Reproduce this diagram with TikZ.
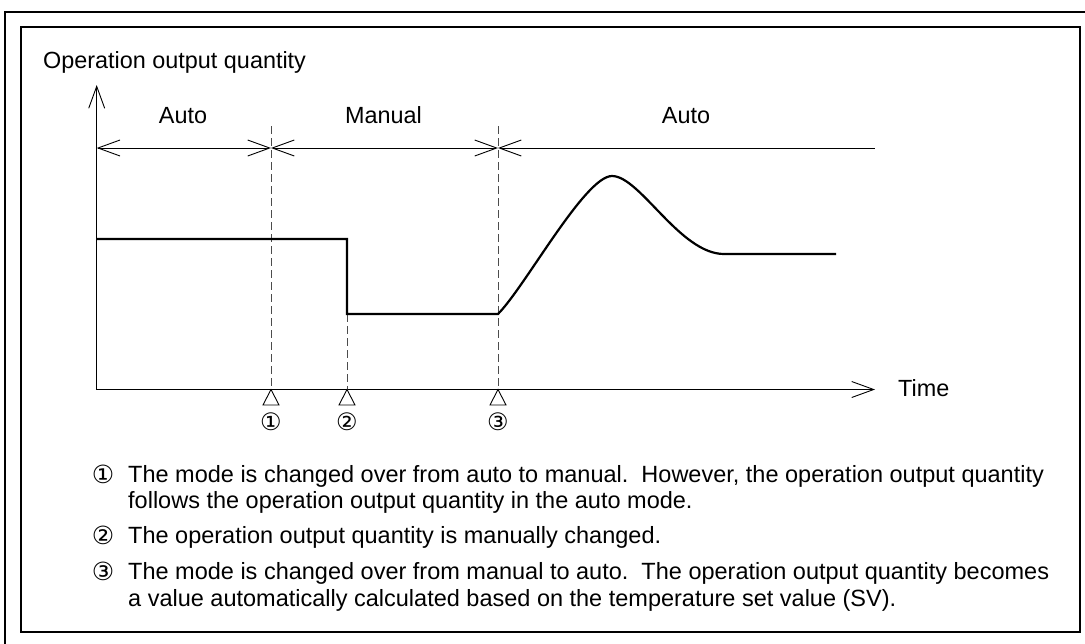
\documentclass[tikz,border=0pt]{standalone}
\usepackage{fontspec}
\setmainfont{Liberation Sans}
\newfontfamily\circfont{DejaVu Sans}
\usetikzlibrary{arrows.meta}

\tikzset{
  frame/.style={line width=2pt},
  axis/.style={line width=0.9pt},
  signal/.style={line width=2.2pt, line join=miter},
  guide/.style={line width=0.9pt, dash pattern=on 8pt off 4pt, black!70},
  marker/.style={line width=0.9pt, line join=miter},
  lbl/.style={inner sep=0pt, font=\fontsize{23.4}{28}\selectfont},
  note/.style={inner sep=0pt, anchor=base west, font=\fontsize{23.5}{26.5}\selectfont},
  numlbl/.style={inner sep=0pt, font=\circfont\fontsize{24}{24}\selectfont},
  notenum/.style={inner sep=0pt, anchor=base, font=\circfont\fontsize{25}{25}\selectfont}
}

\begin{document}
\begin{tikzpicture}[x=1pt, y=-1pt, >={Straight Barb[length=22pt,width=16pt]}]
  \useasboundingbox (0,0) rectangle (1085,643);
  \draw[frame] (5,12) rectangle (1100,660);
  \draw[frame] (21,27) rectangle (1080,632);

  \coordinate (O) at (96.7,389.5);
  \coordinate (ytop) at (96.7,85);
  \coordinate (xend) at (875,389.5);
  \coordinate (t1) at (271,389.5);
  \coordinate (t2) at (347,389.5);
  \coordinate (t3) at (498,389.5);
  \coordinate (r0) at (96.7,148);
  \coordinate (r1) at (271,148);
  \coordinate (r2) at (498,148);
  \coordinate (r3) at (875,148);

  \draw[axis,->] (O) -- (ytop);
  \draw[axis,->] (O) -- (xend);
  \node[lbl, anchor=base west] (ylabel) at (43,68.5) {Operation output quantity};
  \node[lbl, anchor=base west] (xlabel) at (898,396) {Time};

  \draw[guide] (271,126) -- (t1);
  \draw[guide] (347,314) -- (t2);
  \draw[guide] (498,126) -- (t3);

  \draw[axis,<->] (r0) -- (r1);
  \draw[axis,<->] (r1) -- (r2);
  \draw[axis,<-] (r2) -- (r3);
  \node[lbl, anchor=base] (auto1) at (183,123) {Auto};
  \node[lbl, anchor=base] (manual) at (383.5,123) {Manual};
  \node[lbl, anchor=base] (auto2) at (686,123) {Auto};

  \foreach \t/\n in {t1/①, t2/②, t3/③} {
    \draw[marker] (\t) -- ++(-8,15.5) -- ++(16,0) -- cycle;
    \node[numlbl] at ([yshift=-32pt]\t) {\n};
  }

  \draw[signal] (96.7,239) -- (347,239) -- (347,314) -- (498,314)
    .. controls (525,287) and (585,176) .. (612,176)
    .. controls (640,176) and (680,254) .. (724,254) -- (836,254);

  \node[notenum] (k1) at (103,483) {①};
  \node[note] (n1) at (128,482) {\vtop{\hbox{The mode is changed over from auto to manual.\ \ However, the operation output quantity}
    \hbox{follows the operation output quantity in the auto mode.}}};
  \node[notenum] (k2) at (103,544.5) {②};
  \node[note] (n2) at (128,543.5) {The operation output quantity is manually changed.};
  \node[notenum] (k3) at (103,580.5) {③};
  \node[note] (n3) at (128,579.5) {\vtop{\hbox{The mode is changed over from manual to auto.\ \ The operation output quantity becomes}
    \hbox{a value automatically calculated based on the temperature set value (SV).}}};
\end{tikzpicture}
\end{document}
